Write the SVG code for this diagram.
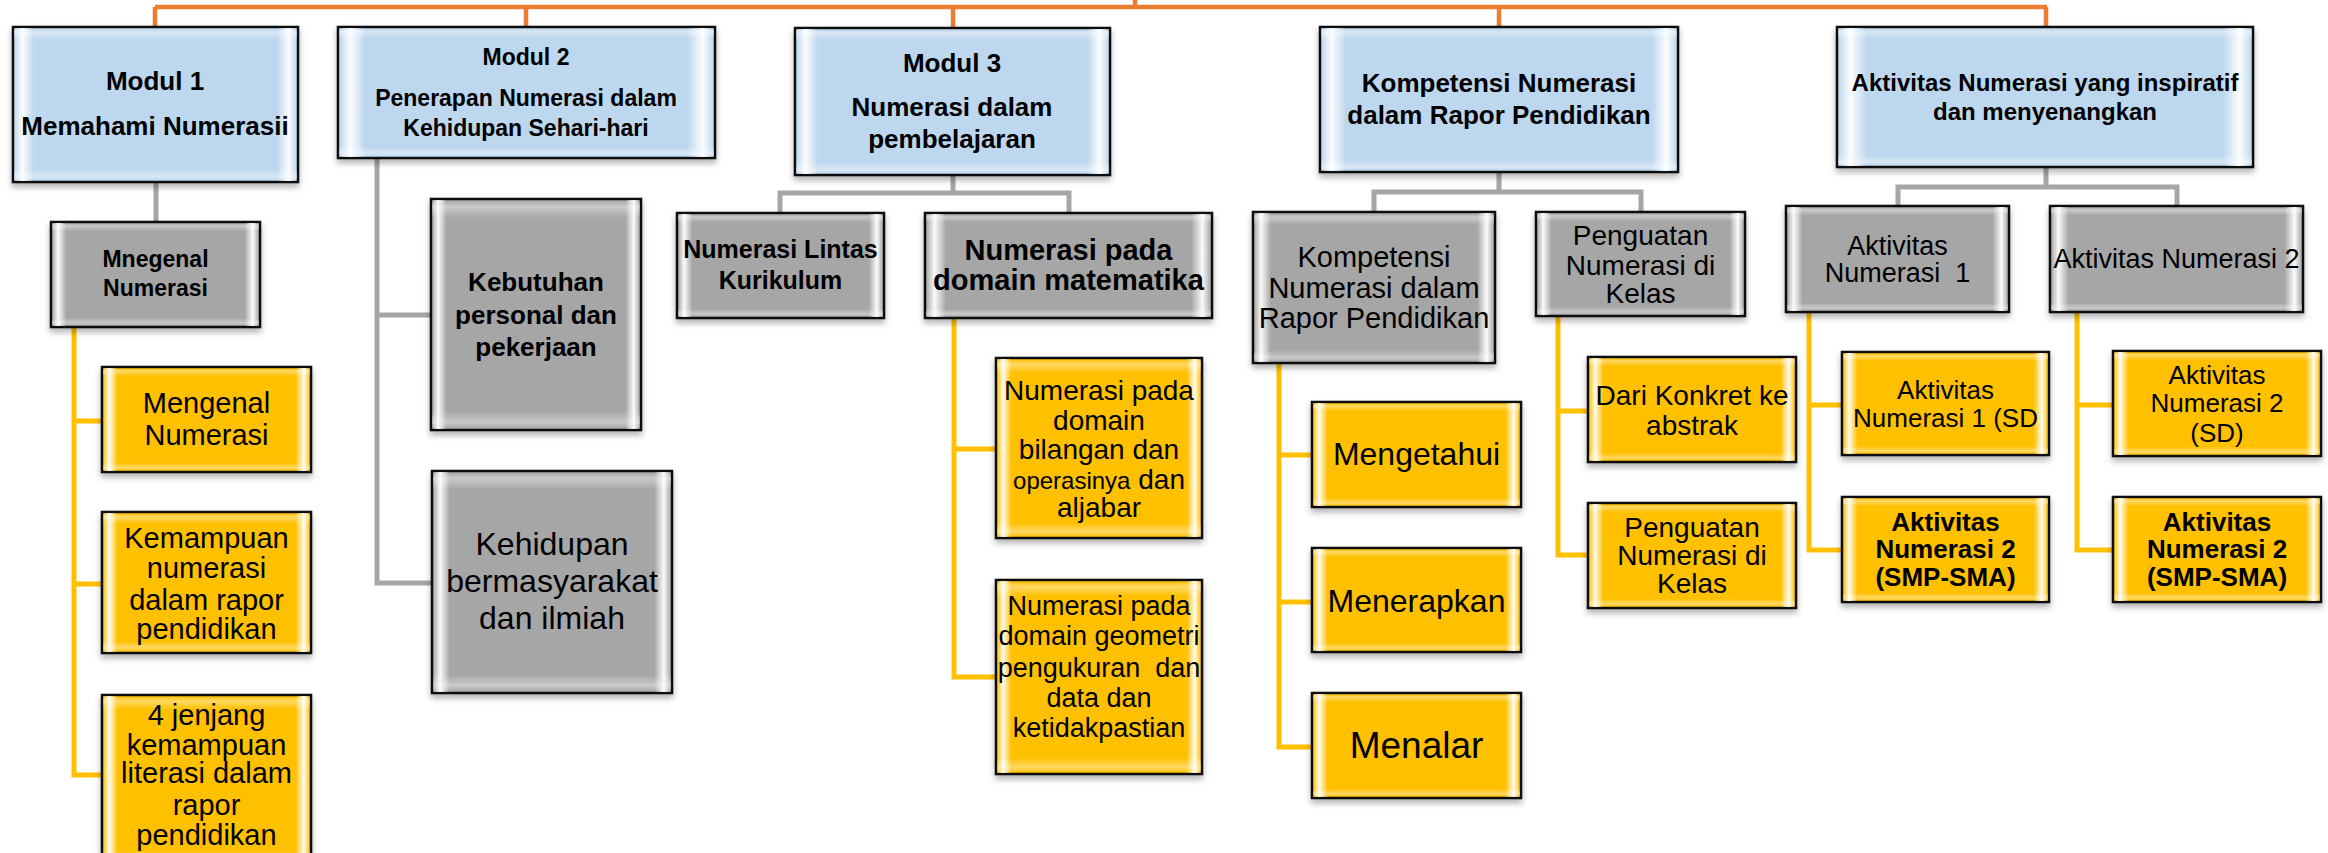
<svg xmlns="http://www.w3.org/2000/svg" width="2328" height="853" viewBox="0 0 2328 853">
<style>
.t{font-family:"Liberation Sans",Arial,Helvetica,sans-serif;text-anchor:middle;fill:#000}
.b{font-weight:bold}
.blue{fill:#BDD7EE;stroke:#111;stroke-width:2.5;filter:url(#sh)}
.gray{fill:#A6A6A6;stroke:#111;stroke-width:2.5;filter:url(#sh)}
.yel{fill:#FFC000;stroke:#111;stroke-width:2.5;filter:url(#sh)}
.bh{fill:url(#gh);stroke:none}
.bv{fill:url(#gv);stroke:none}
.co{fill:none;stroke:#ED7D31;stroke-width:4.5}
.cg{fill:none;stroke:#A6A6A6;stroke-width:5}
.cy{fill:none;stroke:#FFC000;stroke-width:5}
</style>
<defs>
<filter id="sh" x="-10%" y="-10%" width="120%" height="125%">
<feDropShadow dx="0" dy="4" stdDeviation="3" flood-color="#000" flood-opacity="0.3"/>
</filter>
<linearGradient id="gh" x1="0" y1="0" x2="1" y2="0">
<stop offset="0" stop-color="#fff" stop-opacity="0"/>
<stop offset="0.03" stop-color="#fff" stop-opacity="0.95"/>
<stop offset="0.07" stop-color="#fff" stop-opacity="0"/>
<stop offset="0.93" stop-color="#fff" stop-opacity="0"/>
<stop offset="0.97" stop-color="#fff" stop-opacity="0.95"/>
<stop offset="1" stop-color="#fff" stop-opacity="0"/>
</linearGradient>
<linearGradient id="gv" x1="0" y1="0" x2="0" y2="1">
<stop offset="0" stop-color="#fff" stop-opacity="0"/>
<stop offset="0.03" stop-color="#fff" stop-opacity="0.4"/>
<stop offset="0.08" stop-color="#fff" stop-opacity="0"/>
<stop offset="0.92" stop-color="#fff" stop-opacity="0"/>
<stop offset="0.97" stop-color="#fff" stop-opacity="0.4"/>
<stop offset="1" stop-color="#fff" stop-opacity="0"/>
</linearGradient>
</defs>
<rect width="2328" height="853" fill="#fff"/>

<g id="connectors">
<path class="co" d="M155 7H2047M1135 0V7M155 7V27M526 7V27M953 7V28M1499 7V27M2046 7V27"/>
<path class="cg" d="M156 182V222"/>
<path class="cg" d="M377 158V583H432M377 315H431"/>
<path class="cg" d="M953 175V193M780 213V193H1069V213"/>
<path class="cg" d="M1499 172V192M1374 212V192H1641V212"/>
<path class="cg" d="M2046 167V187M1898 206V187H2177V206"/>
<path class="cy" d="M74 327V775H102M74 421H102M74 584H102"/>
<path class="cy" d="M954 318V677H996M954 449H996"/>
<path class="cy" d="M1279 363V747H1312M1279 455H1312M1279 602H1312"/>
<path class="cy" d="M1558 316V555H1588M1558 411H1588"/>
<path class="cy" d="M1809 312V550H1842M1809 405H1842"/>
<path class="cy" d="M2077 312V550H2113M2077 405H2113"/>
</g>

<g id="modul1">
<rect class="blue" x="13" y="27" width="285" height="155"/><rect class="bh" x="14" y="28" width="283" height="153"/><rect class="bv" x="14" y="28" width="283" height="153"/>
<text class="t b" font-size="26"><tspan x="155" y="90">Modul 1</tspan><tspan x="155" y="135">Memahami Numerasii</tspan></text>
</g>
<g id="modul2">
<rect class="blue" x="338" y="27" width="377" height="131"/><rect class="bh" x="339" y="28" width="375" height="129"/><rect class="bv" x="339" y="28" width="375" height="129"/>
<text class="t b" font-size="23"><tspan x="526" y="65">Modul 2</tspan><tspan x="526" y="106">Penerapan Numerasi dalam</tspan><tspan x="526" y="136">Kehidupan Sehari-hari</tspan></text>
</g>
<g id="modul3">
<rect class="blue" x="795" y="28" width="315" height="147"/><rect class="bh" x="796" y="29" width="313" height="145"/><rect class="bv" x="796" y="29" width="313" height="145"/>
<text class="t b" font-size="26"><tspan x="952" y="72">Modul 3</tspan><tspan x="952" y="116">Numerasi dalam</tspan><tspan x="952" y="148">pembelajaran</tspan></text>
</g>
<g id="kompetensi">
<rect class="blue" x="1320" y="27" width="358" height="145"/><rect class="bh" x="1321" y="28" width="356" height="143"/><rect class="bv" x="1321" y="28" width="356" height="143"/>
<text class="t b" font-size="26"><tspan x="1499" y="92">Kompetensi Numerasi</tspan><tspan x="1499" y="124">dalam Rapor Pendidikan</tspan></text>
</g>
<g id="aktivitas">
<rect class="blue" x="1837" y="27" width="416" height="140"/><rect class="bh" x="1838" y="28" width="414" height="138"/><rect class="bv" x="1838" y="28" width="414" height="138"/>
<text class="t b" font-size="24"><tspan x="2045" y="91">Aktivitas Numerasi yang inspiratif</tspan><tspan x="2045" y="120">dan menyenangkan</tspan></text>
</g>

<g id="mnegenal">
<rect class="gray" x="51" y="222" width="209" height="105"/><rect class="bh" x="52" y="223" width="207" height="103"/><rect class="bv" x="52" y="223" width="207" height="103"/>
<text class="t b" font-size="23"><tspan x="155.5" y="267">Mnegenal</tspan><tspan x="155.5" y="296">Numerasi</tspan></text>
</g>
<g id="kebutuhan">
<rect class="gray" x="431" y="199" width="210" height="231"/><rect class="bh" x="432" y="200" width="208" height="229"/><rect class="bv" x="432" y="200" width="208" height="229"/>
<text class="t b" font-size="26"><tspan x="536" y="291">Kebutuhan</tspan><tspan x="536" y="324">personal dan</tspan><tspan x="536" y="356">pekerjaan</tspan></text>
</g>
<g id="kehidupan">
<rect class="gray" x="432" y="471" width="240" height="222"/><rect class="bh" x="433" y="472" width="238" height="220"/><rect class="bv" x="433" y="472" width="238" height="220"/>
<text class="t" font-size="32"><tspan x="552" y="555">Kehidupan</tspan><tspan x="552" y="592">bermasyarakat</tspan><tspan x="552" y="629">dan ilmiah</tspan></text>
</g>
<g id="lintas">
<rect class="gray" x="677" y="213" width="207" height="105"/><rect class="bh" x="678" y="214" width="205" height="103"/><rect class="bv" x="678" y="214" width="205" height="103"/>
<text class="t b" font-size="25"><tspan x="780.5" y="258">Numerasi Lintas</tspan><tspan x="780.5" y="289">Kurikulum</tspan></text>
</g>
<g id="matematika">
<rect class="gray" x="925" y="213" width="287" height="105"/><rect class="bh" x="926" y="214" width="285" height="103"/><rect class="bv" x="926" y="214" width="285" height="103"/>
<text class="t b" font-size="29"><tspan x="1068.5" y="260">Numerasi pada</tspan><tspan x="1068.5" y="290">domain matematika</tspan></text>
</g>
<g id="kompetensi2">
<rect class="gray" x="1253" y="212" width="242" height="151"/><rect class="bh" x="1254" y="213" width="240" height="149"/><rect class="bv" x="1254" y="213" width="240" height="149"/>
<text class="t" font-size="29"><tspan x="1374" y="267">Kompetensi</tspan><tspan x="1374" y="298">Numerasi dalam</tspan><tspan x="1374" y="328">Rapor Pendidikan</tspan></text>
</g>
<g id="penguatan">
<rect class="gray" x="1536" y="212" width="209" height="104"/><rect class="bh" x="1537" y="213" width="207" height="102"/><rect class="bv" x="1537" y="213" width="207" height="102"/>
<text class="t" font-size="28"><tspan x="1640.5" y="245">Penguatan</tspan><tspan x="1640.5" y="275">Numerasi di</tspan><tspan x="1640.5" y="303">Kelas</tspan></text>
</g>
<g id="aktivitas1">
<rect class="gray" x="1786" y="206" width="223" height="106"/><rect class="bh" x="1787" y="207" width="221" height="104"/><rect class="bv" x="1787" y="207" width="221" height="104"/>
<text class="t" font-size="27"><tspan x="1897.5" y="255">Aktivitas</tspan><tspan x="1897.5" y="282">Numerasi&#160; 1</tspan></text>
</g>
<g id="aktivitas2">
<rect class="gray" x="2050" y="206" width="253" height="106"/><rect class="bh" x="2051" y="207" width="251" height="104"/><rect class="bv" x="2051" y="207" width="251" height="104"/>
<text class="t" font-size="27"><tspan x="2176.5" y="268">Aktivitas Numerasi 2</tspan></text>
</g>

<g id="mengenal">
<rect class="yel" x="102" y="367" width="209" height="105"/><rect class="bh" x="103" y="368" width="207" height="103"/><rect class="bv" x="103" y="368" width="207" height="103"/>
<text class="t" font-size="29"><tspan x="206.5" y="413">Mengenal</tspan><tspan x="206.5" y="445">Numerasi</tspan></text>
</g>
<g id="kemampuan">
<rect class="yel" x="102" y="512" width="209" height="141"/><rect class="bh" x="103" y="513" width="207" height="139"/><rect class="bv" x="103" y="513" width="207" height="139"/>
<text class="t" font-size="29"><tspan x="206.5" y="548">Kemampuan</tspan><tspan x="206.5" y="578">numerasi</tspan><tspan x="206.5" y="610">dalam rapor</tspan><tspan x="206.5" y="639">pendidikan</tspan></text>
</g>
<g id="jenjang">
<rect class="yel" x="102" y="695" width="209" height="170"/><rect class="bh" x="103" y="696" width="207" height="168"/><rect class="bv" x="103" y="696" width="207" height="168"/>
<text class="t" font-size="29"><tspan x="206.5" y="725">4 jenjang</tspan><tspan x="206.5" y="755">kemampuan</tspan><tspan x="206.5" y="783">literasi dalam</tspan><tspan x="206.5" y="815">rapor</tspan><tspan x="206.5" y="845">pendidikan</tspan></text>
</g>
<g id="bilangan">
<rect class="yel" x="996" y="358" width="206" height="180"/><rect class="bh" x="997" y="359" width="204" height="178"/><rect class="bv" x="997" y="359" width="204" height="178"/>
<text class="t" font-size="28"><tspan x="1099" y="400">Numerasi pada</tspan><tspan x="1099" y="430">domain</tspan><tspan x="1099" y="459">bilangan dan</tspan><tspan x="1099" y="489"><tspan font-size="24">operasinya</tspan> dan</tspan><tspan x="1099" y="517">aljabar</tspan></text>
</g>
<g id="geometri">
<rect class="yel" x="996" y="580" width="206" height="194"/><rect class="bh" x="997" y="581" width="204" height="192"/><rect class="bv" x="997" y="581" width="204" height="192"/>
<text class="t" font-size="27"><tspan x="1099" y="615">Numerasi pada</tspan><tspan x="1099" y="645">domain geometri</tspan><tspan x="1099" y="677">pengukuran&#160; dan</tspan><tspan x="1099" y="707">data dan</tspan><tspan x="1099" y="737">ketidakpastian</tspan></text>
</g>
<g id="mengetahui">
<rect class="yel" x="1312" y="402" width="209" height="105"/><rect class="bh" x="1313" y="403" width="207" height="103"/><rect class="bv" x="1313" y="403" width="207" height="103"/>
<text class="t" font-size="32" x="1416.5" y="465">Mengetahui</text>
</g>
<g id="menerapkan">
<rect class="yel" x="1312" y="548" width="209" height="104"/><rect class="bh" x="1313" y="549" width="207" height="102"/><rect class="bv" x="1313" y="549" width="207" height="102"/>
<text class="t" font-size="32" x="1416.5" y="612">Menerapkan</text>
</g>
<g id="menalar">
<rect class="yel" x="1312" y="693" width="209" height="105"/><rect class="bh" x="1313" y="694" width="207" height="103"/><rect class="bv" x="1313" y="694" width="207" height="103"/>
<text class="t" font-size="37" x="1416.5" y="758">Menalar</text>
</g>
<g id="konkret">
<rect class="yel" x="1588" y="357" width="208" height="105"/><rect class="bh" x="1589" y="358" width="206" height="103"/><rect class="bv" x="1589" y="358" width="206" height="103"/>
<text class="t" font-size="28"><tspan x="1692" y="405">Dari Konkret ke</tspan><tspan x="1692" y="435">abstrak</tspan></text>
</g>
<g id="penguatan-kelas">
<rect class="yel" x="1588" y="503" width="208" height="105"/><rect class="bh" x="1589" y="504" width="206" height="103"/><rect class="bv" x="1589" y="504" width="206" height="103"/>
<text class="t" font-size="28"><tspan x="1692" y="537">Penguatan</tspan><tspan x="1692" y="565">Numerasi di</tspan><tspan x="1692" y="593">Kelas</tspan></text>
</g>
<g id="aktivitas1-sd">
<rect class="yel" x="1842" y="352" width="207" height="103"/><rect class="bh" x="1843" y="353" width="205" height="101"/><rect class="bv" x="1843" y="353" width="205" height="101"/>
<text class="t" font-size="26"><tspan x="1945.5" y="399">Aktivitas</tspan><tspan x="1945.5" y="427">Numerasi 1 (SD</tspan></text>
</g>
<g id="aktivitas1-smp">
<rect class="yel" x="1842" y="497" width="207" height="105"/><rect class="bh" x="1843" y="498" width="205" height="103"/><rect class="bv" x="1843" y="498" width="205" height="103"/>
<text class="t b" font-size="26"><tspan x="1945.5" y="531">Aktivitas</tspan><tspan x="1945.5" y="558">Numerasi 2</tspan><tspan x="1945.5" y="586">(SMP-SMA)</tspan></text>
</g>
<g id="aktivitas2-sd">
<rect class="yel" x="2113" y="351" width="208" height="105"/><rect class="bh" x="2114" y="352" width="206" height="103"/><rect class="bv" x="2114" y="352" width="206" height="103"/>
<text class="t" font-size="26"><tspan x="2217" y="384">Aktivitas</tspan><tspan x="2217" y="412">Numerasi 2</tspan><tspan x="2217" y="442">(SD)</tspan></text>
</g>
<g id="aktivitas2-smp">
<rect class="yel" x="2113" y="497" width="208" height="105"/><rect class="bh" x="2114" y="498" width="206" height="103"/><rect class="bv" x="2114" y="498" width="206" height="103"/>
<text class="t b" font-size="26"><tspan x="2217" y="531">Aktivitas</tspan><tspan x="2217" y="558">Numerasi 2</tspan><tspan x="2217" y="586">(SMP-SMA)</tspan></text>
</g>
</svg>
